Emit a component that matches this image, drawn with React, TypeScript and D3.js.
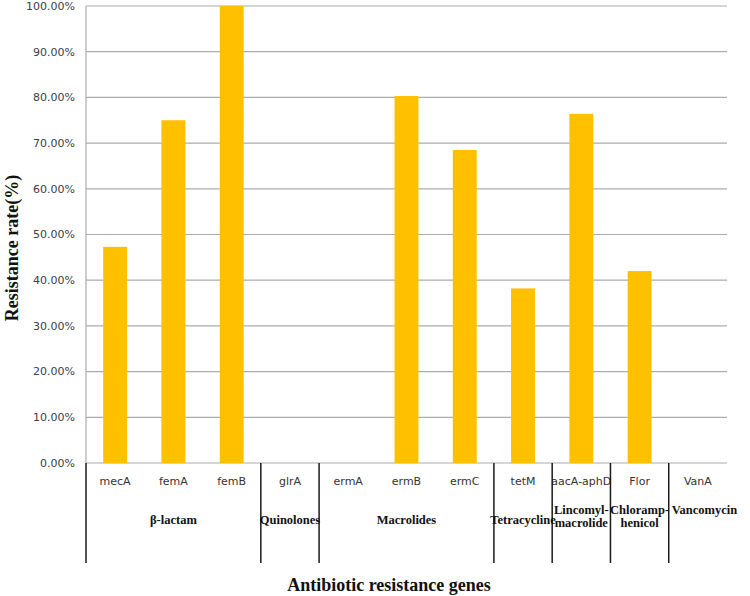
import React from 'react';
import * as d3 from 'd3';

const genes = ['mecA', 'femA', 'femB', 'glrA', 'ermA', 'ermB', 'ermC', 'tetM', 'aacA-aphD', 'Flor', 'VanA'];
const rates = [47.3, 75.0, 100.0, 0, 0, 80.3, 68.5, 38.2, 76.4, 42.0, 0];
const groupNames = [['β-lactam'], ['Quinolones'], ['Macrolides'], ['Tetracycline'], ['Lincomyl-', 'macrolide'], ['Chloramp-', 'henicol'], ['Vancomycin']];
const groupSizes = [3, 1, 3, 1, 1, 1, 1];
const yTicks = [0, 10, 20, 30, 40, 50, 60, 70, 80, 90, 100];

const W = 750;
const H = 596;
const margin = { top: 6, right: 23, bottom: 133, left: 86 };
const gap = 0.59;

const App: React.FC = () => {
  const plotW = W - margin.left - margin.right;
  const plotH = H - margin.top - margin.bottom;
  const x = d3.scaleBand<string>().domain(genes).range([0, plotW]).paddingInner(gap).paddingOuter(gap / 2);
  const y = d3.scaleLinear().domain([0, 100]).range([plotH, 0]);
  const step = x.step();
  const slotStart = (g: string) => (x(g) as number) - (step * gap) / 2;
  const fmt = d3.format('.2f');

  // group boundaries from category slots
  let idx = 0;
  const groups = groupSizes.map((n, i) => {
    const first = genes[idx];
    const last = genes[idx + n - 1];
    idx += n;
    const x0 = slotStart(first);
    const x1 = slotStart(last) + step;
    return { lines: groupNames[i], x0, x1 };
  });
  // a line at the start of each group, none at the far right
  const dividers = groups.map(gr => gr.x0);

  return (
    <svg width={W} height={H} style={{ position: 'absolute', left: 0, top: 0, background: '#fff' }}>
      <g transform={`translate(${margin.left},${margin.top})`}>
        {yTicks.map(t => (
          <g key={t}>
            <line x1={0} x2={plotW} y1={y(t)} y2={y(t)} stroke="#ababab" strokeWidth={1.2} />
            <text x={-11} y={y(t)} dy="0.35em" textAnchor="end" fontFamily="DejaVu Sans" fontSize={11} fill="#404040">
              {fmt(t)}%
            </text>
          </g>
        ))}
        <line x1={0} x2={0} y1={0} y2={plotH} stroke="#ababab" strokeWidth={1.2} />
        {genes.map((g, i) => (
          <rect key={g} x={x(g)} y={y(rates[i])} width={x.bandwidth()} height={plotH - y(rates[i])} fill="#FFC000" />
        ))}
        {genes.map(g => (
          <text key={g} x={(x(g) as number) + x.bandwidth() / 2} y={plotH + 22} textAnchor="middle"
            fontFamily="DejaVu Sans" fontSize={11} fill="#333">
            {g}
          </text>
        ))}
        {dividers.map((xv, i) => (
          <line key={i} x1={xv} x2={xv} y1={plotH} y2={plotH + 100} stroke="#1a1a1a" strokeWidth={1.5} />
        ))}
        {groups.map((gr, i) => {
          const isLast = i === groups.length - 1;
          const cx = isLast ? gr.x0 + 3 : (gr.x0 + gr.x1) / 2;
          const base = gr.lines.length > 1 || isLast ? plotH + 51 : plotH + 61;
          return (
            <text key={i} x={cx} y={base} textAnchor={isLast ? 'start' : 'middle'} fontFamily="Liberation Serif"
              fontWeight="bold" fontSize={12.5} fill="#111">
              {gr.lines.map((l, j) => (
                <tspan key={j} x={cx} dy={j === 0 ? 0 : 13}>{l}</tspan>
              ))}
            </text>
          );
        })}
      </g>
      <text x={389} y={591} textAnchor="middle" fontFamily="Liberation Serif" fontWeight="bold" fontSize={18} fill="#111">
        Antibiotic resistance genes
      </text>
      <text transform={`translate(18,${248}) rotate(-90)`} textAnchor="middle" fontFamily="Liberation Serif" fontWeight="bold" fontSize={18} fill="#111">
        Resistance rate(%)
      </text>
    </svg>
  );
};

export default App;
